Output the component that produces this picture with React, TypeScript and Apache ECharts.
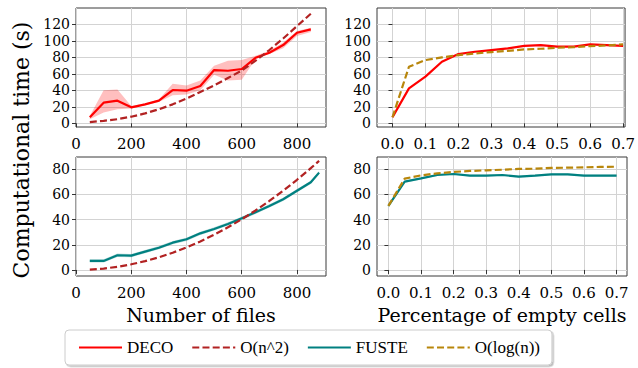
import React, { useEffect, useRef } from 'react';
import * as echarts from 'echarts';

// ---- data ----
const filesX = [50, 100, 150, 200, 250, 300, 350, 400, 450, 500, 550, 600, 650, 700, 750, 800, 850];
const decoFiles = [7.3, 25, 27.5, 19.4, 23, 27.5, 40.4, 39.6, 45.2, 64.6, 63.8, 65.9, 79.6, 85.7, 95, 110, 114];
const decoFilesLow = [5, 13, 17, 18, 22, 26, 34, 35, 40, 59, 52, 53, 78, 84, 91, 106, 111];
const decoFilesHigh = [9, 40, 41, 21, 24, 29, 48, 46, 52, 70, 76, 77, 82, 88, 98, 112, 116];
const quadFilesTop = [1.5, 3, 5, 8, 12, 17, 23, 30, 38, 46, 55, 64, 76, 89, 103, 118, 133];

const fusteX = [50, 100, 150, 200, 250, 300, 350, 400, 450, 500, 550, 600, 650, 700, 750, 800, 850, 880];
const fusteFiles = [7.2, 7.2, 11.7, 11.4, 14.6, 17.7, 21.7, 24.4, 29.1, 32.6, 36.6, 41.1, 45.8, 50.9, 56.2, 63, 69.7, 77.4];
const quadFilesBottom = [0.3, 1.1, 2.5, 4.5, 7, 10.1, 13.7, 17.9, 22.7, 28, 33.9, 40.3, 47.3, 54.9, 63, 71.7, 80.9, 86.7];

const emptyX = [0, 0.05, 0.1, 0.15, 0.2, 0.25, 0.3, 0.35, 0.4, 0.45, 0.5, 0.55, 0.6, 0.65, 0.7];
const decoEmpty = [7.3, 42.4, 56.6, 74.7, 84, 86.9, 88.9, 90.9, 94.1, 95, 93, 93, 95.8, 95, 94.1];
const logEmptyTop = [7.3, 68.7, 76.8, 80, 82.8, 84.8, 86.5, 88, 89.7, 90.5, 91.7, 92.5, 93.7, 94.5, 95.8];
const fusteEmpty = [50.9, 70.2, 72.8, 75.5, 76.3, 75, 75, 75.5, 74.2, 75, 76, 76, 75, 75, 75];
const logEmptyBottom = [50.9, 72.6, 75.2, 76.8, 77.9, 78.7, 79.2, 79.7, 80.3, 80.5, 81.1, 81.3, 81.6, 81.9, 82.1];

const filesTicks = [0, 200, 400, 600, 800];
const emptyTicks = [0, 0.1, 0.2, 0.3, 0.4, 0.5, 0.6, 0.7];
const topYTicks = [0, 20, 40, 60, 80, 100, 120];
const bottomYTicks = [0, 20, 40, 60, 80];

const legendNames = ['DECO', 'O(n^2)', 'FUSTE', 'O(log(n))'];

// ---- styles ----
const RED = '#ff0000';
const QUAD = '#b22222';
const TEAL = '#008080';
const GOLD = '#b8860b';
const SERIF = 'DejaVu Serif';
const DASH = [7, 3.2];
const X_LABEL_SIZE = 15;
const Y_LABEL_SIZE = 14;

const pairs = (xs: number[], ys: number[]) => xs.map((x, i) => [x, ys[i]]);

function band(xs: number[], lo: number[], hi: number[], idx: number, color: string) {
  return {
    type: 'custom',
    name: '_band' + idx,
    xAxisIndex: idx,
    yAxisIndex: idx,
    silent: true,
    z: 1,
    data: xs.map((x, i) => [x, lo[i], hi[i]]),
    encode: { x: 0, y: [1, 2] },
    renderItem: (params: any, api: any) => {
      if (params.dataIndex !== 0) return null;
      const upper = xs.map((x, i) => api.coord([x, hi[i]]));
      const lower = xs.map((x, i) => api.coord([x, lo[i]])).reverse();
      return {
        type: 'polygon',
        shape: { points: upper.concat(lower) },
        style: { fill: color, stroke: 'none' },
      };
    },
  };
}

function line(name: string, xs: number[], ys: number[], idx: number, color: string, dashed: boolean, width = 2.2) {
  return {
    type: 'line',
    name,
    xAxisIndex: idx,
    yAxisIndex: idx,
    symbol: 'none',
    showSymbol: false,
    z: 3,
    data: pairs(xs, ys),
    lineStyle: { color, width, type: dashed ? DASH : 'solid' },
    itemStyle: { color },
  };
}

function labelCfg(margin: number, ticks: number[], dec: boolean, size: number) {
  return {
    customValues: ticks,
    margin,
    color: '#000',
    formatter: (v: number) => (dec ? v.toFixed(1) : String(v)),
    textStyle: { fontFamily: SERIF, fontSize: size, lineHeight: size, color: '#000' },
    fontFamily: SERIF,
    fontSize: size,
    lineHeight: size,
  };
}

function xAxis(idx: number, min: number, max: number, ticks: number[], dec: boolean, name?: string) {
  return {
    type: 'value',
    gridIndex: idx,
    min,
    max,
    name: name || '',
    nameLocation: 'middle',
    nameGap: 29,
    nameTextStyle: { fontFamily: SERIF, fontSize: 19, color: '#000' },
    axisLine: { show: false },
    axisTick: { show: true, inside: false, length: 4, customValues: ticks, lineStyle: { color: '#333', width: 1 } },
    axisLabel: labelCfg(9, ticks, dec, X_LABEL_SIZE),
    splitLine: { show: true, lineStyle: { color: '#d3d3d3', width: 1 } },
  };
}

function yAxis(idx: number, min: number, max: number, ticks: number[]) {
  return {
    type: 'value',
    gridIndex: idx,
    min,
    max,
    axisLine: { show: false },
    axisTick: { show: true, inside: false, length: 4, customValues: ticks, lineStyle: { color: '#333', width: 1 } },
    axisLabel: labelCfg(6, ticks, false, Y_LABEL_SIZE),
    splitLine: { show: true, lineStyle: { color: '#d3d3d3', width: 1 } },
  };
}

const gridStyle = { show: true, borderColor: '#3a3a3a', borderWidth: 1, backgroundColor: 'transparent' };

const option: any = {
  animation: false,
  backgroundColor: '#ffffff',
  textStyle: { fontFamily: SERIF, color: '#000' },
  grid: [
    { left: 76, top: 8, width: 250, height: 119, ...gridStyle },
    { left: 377, top: 8, width: 250, height: 119, ...gridStyle },
    { left: 76, top: 157, width: 250, height: 119, ...gridStyle },
    { left: 377, top: 157, width: 250, height: 119, ...gridStyle },
  ],
  xAxis: [
    xAxis(0, 0, 905, filesTicks, false),
    xAxis(1, -0.047, 0.706, emptyTicks, true),
    xAxis(2, 0, 905, filesTicks, false, 'Number of files'),
    xAxis(3, -0.035, 0.732, emptyTicks, true, 'Percentage of empty cells'),
  ],
  yAxis: [
    yAxis(0, -4.5, 140, topYTicks),
    yAxis(1, -4.5, 140, topYTicks),
    yAxis(2, -4.8, 89.8, bottomYTicks),
    yAxis(3, -4.8, 89.8, bottomYTicks),
  ],
  legend: {
    data: legendNames,
    left: 65,
    top: 330,
    orient: 'horizontal',
    itemWidth: 43,
    itemHeight: 14,
    itemGap: 18,
    padding: [9, 12, 9, 13],
    borderColor: '#cccccc',
    borderWidth: 1,
    borderRadius: 4,
    backgroundColor: '#ffffff',
    shadowColor: 'rgba(0,0,0,0.25)',
    shadowOffsetX: 1.5,
    shadowOffsetY: 1.5,
    shadowBlur: 0,
    itemStyle: { opacity: 0, borderWidth: 0 },
    textStyle: { fontFamily: 'Liberation Serif', fontSize: 17, color: '#000' },
  },
  graphic: [
    {
      type: 'text',
      x: 21,
      y: 150,
      rotation: Math.PI / 2,
      style: {
        text: 'Computational time (s)',
        fontFamily: SERIF,
        fontSize: 22,
        fill: '#000',
        align: 'center',
        verticalAlign: 'middle',
      },
    },
  ],
  series: [
    band(filesX, decoFilesLow, decoFilesHigh, 0, 'rgba(255,0,0,0.25)'),
    line('DECO', filesX, decoFiles, 0, RED, false),
    line('O(n^2)', filesX, quadFilesTop, 0, QUAD, true),
    line('DECO', emptyX, decoEmpty, 1, RED, false),
    line('O(log(n))', emptyX, logEmptyTop, 1, GOLD, true),
    band(fusteX, fusteFiles.map((v) => v - 1.3), fusteFiles.map((v) => v + 1.3), 2, 'rgba(0,128,128,0.25)'),
    line('FUSTE', fusteX, fusteFiles, 2, TEAL, false),
    line('O(n^2)', fusteX, quadFilesBottom, 2, QUAD, true),
    band(emptyX, fusteEmpty.map((v) => v - 0.8), fusteEmpty.map((v) => v + 0.8), 3, 'rgba(0,128,128,0.2)'),
    line('FUSTE', emptyX, fusteEmpty, 3, TEAL, false),
    line('O(log(n))', emptyX, logEmptyBottom, 3, GOLD, true),
  ],
};

export default function App() {
  const ref = useRef<HTMLDivElement>(null);
  useEffect(() => {
    if (!ref.current) return;
    const chart = echarts.init(ref.current, null, { renderer: 'svg' });
    chart.setOption(option);
    return () => chart.dispose();
  }, []);
  return <div ref={ref} style={{ position: 'fixed', left: 0, top: 0, width: 638, height: 368 }} />;
}
